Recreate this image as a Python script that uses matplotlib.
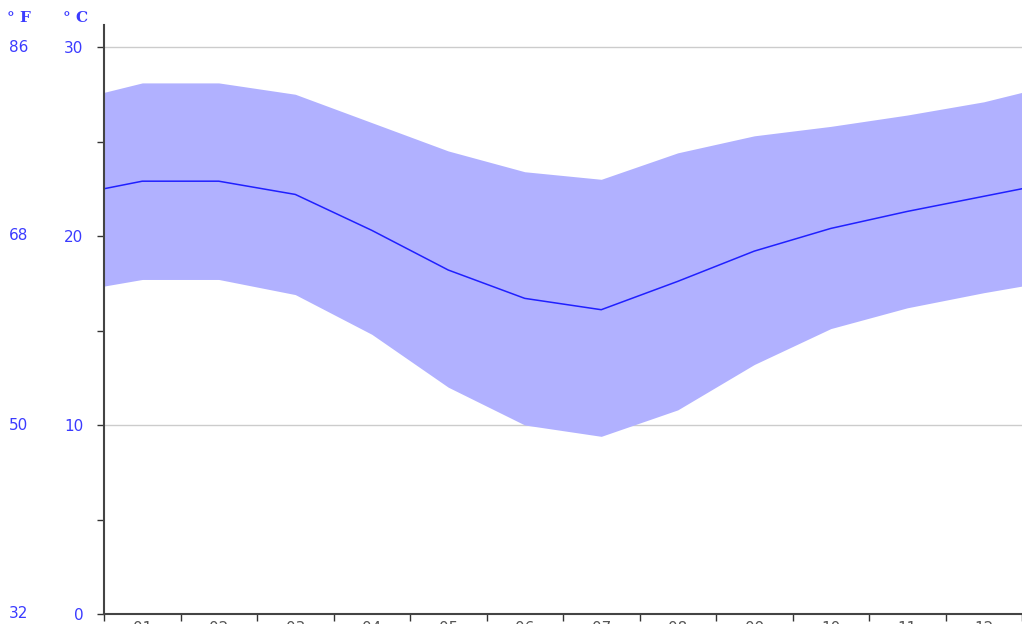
import numpy as np
import matplotlib
matplotlib.use("Agg")
import matplotlib.pyplot as plt
from matplotlib.transforms import blended_transform_factory

# monthly climate values in degrees Celsius
months = ["01", "02", "03", "04", "05", "06", "07", "08", "09", "10", "11", "12"]
t_max = [28.1, 28.1, 27.5, 26.0, 24.5, 23.4, 23.0, 24.4, 25.3, 25.8, 26.4, 27.1]
t_mean = [22.9, 22.9, 22.2, 20.3, 18.2, 16.7, 16.1, 17.6, 19.2, 20.4, 21.3, 22.1]
t_min = [17.7, 17.7, 16.9, 14.8, 12.0, 10.0, 9.4, 10.8, 13.2, 15.1, 16.2, 17.0]
c_ticks = [0, 10, 20, 30]

blue = "#3b3bff"
fill_col = "#b1b1ff"

# wrap december before january and january after december
x = np.arange(-0.5, 13.0, 1.0)
hi = [t_max[-1]] + t_max + [t_max[0]]
mid = [t_mean[-1]] + t_mean + [t_mean[0]]
lo = [t_min[-1]] + t_min + [t_min[0]]

fig = plt.figure(figsize=(10.22, 6.24), dpi=100)
W, H = 1022, 624
ax = fig.add_axes([104 / W, 10 / H, 918 / W, (614 - 25) / H])

ax.fill_between(x, lo, hi, color=fill_col, linewidth=0, zorder=1)
ax.plot(x, mid, color="#2020ff", linewidth=1.1, zorder=2)

ax.set_xlim(0, 918 / 77.3)
ax.set_ylim(0, 589 / 18.9)

for c in c_ticks[1:]:
    ax.axhline(c, color="#cccccc", linewidth=1.0, zorder=0)

for s in ["top", "right"]:
    ax.spines[s].set_visible(False)
for s in ["left", "bottom"]:
    ax.spines[s].set_color("#444444")
    ax.spines[s].set_linewidth(1.5)

ax.set_yticks(c_ticks)
ax.set_yticks([5, 15, 25], minor=True)
ax.set_yticklabels([str(c) for c in c_ticks])
ax.tick_params(axis="y", which="both", direction="out", length=5, width=1,
               color="#333333", pad=10, labelcolor=blue, labelsize=11)

ax.set_xticks(np.arange(0, 13))
ax.set_xticklabels([])
ax.set_xticks(np.arange(0.5, 12), minor=True)
ax.set_xticklabels(months, minor=True)
ax.tick_params(axis="x", which="major", direction="out", length=5, width=1, color="#333333")
ax.tick_params(axis="x", which="minor", length=0, pad=5, labelcolor="#555555", labelsize=11)

# fahrenheit column
tr = blended_transform_factory(fig.transFigure, ax.transData)
for c in c_ticks:
    f = round(c * 9 / 5 + 32)
    ax.text(19 / W, c, str(f), transform=tr, ha="center", va="center",
            color=blue, fontsize=11, clip_on=False)

fig.text(19 / W, 1 - 18 / H, "° F", ha="center", va="center", color=blue,
         fontsize=11, family="DejaVu Serif", fontweight="bold")
fig.text(76 / W, 1 - 18 / H, "° C", ha="center", va="center", color=blue,
         fontsize=11, family="DejaVu Serif", fontweight="bold")

fig.savefig("out.png", dpi=100)
